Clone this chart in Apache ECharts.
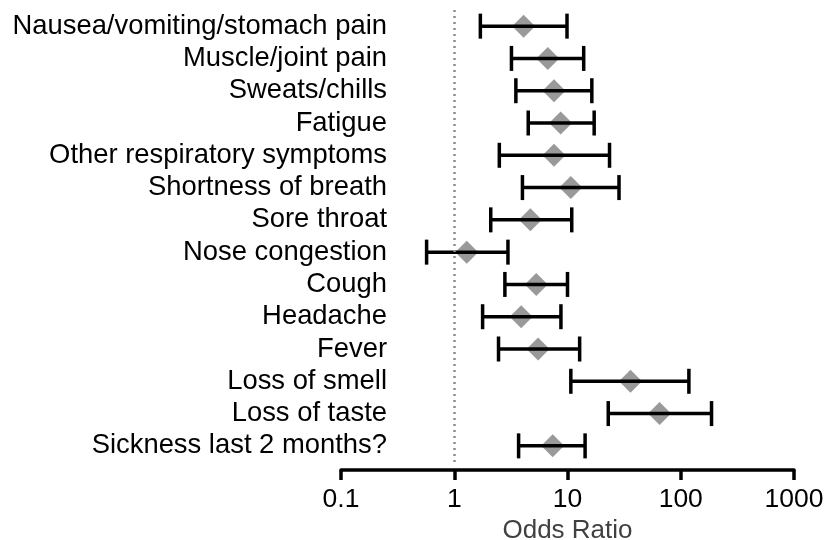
<!DOCTYPE html>
<html>
<head>
<meta charset="utf-8">
<script src="https://cdn.jsdelivr.net/npm/echarts@6/dist/echarts.min.js"></script>
<style>
	html, body { margin: 0; padding: 0; background: #fff; }
	#main { width: 827px; height: 540px; }
</style>
</head>
<body>
<div id="main"></div>
<script>
// 症状（从上到下）
var categories = ['Nausea/vomiting/stomach pain', 'Muscle/joint pain', 'Sweats/chills', 'Fatigue',
	'Other respiratory symptoms', 'Shortness of breath', 'Sore throat', 'Nose congestion', 'Cough',
	'Headache', 'Fever', 'Loss of smell', 'Loss of taste', 'Sickness last 2 months?'];
var oddsRatio = [4.1, 6.7, 7.6, 8.7, 7.6, 10.7, 4.7, 1.29, 5.3, 3.9, 5.5, 36, 65, 7.4];
var lowerCI = [1.7, 3.2, 3.5, 4.5, 2.5, 4.0, 2.1, 0.57, 2.8, 1.78, 2.46, 10.7, 22.9, 3.7];
var upperCI = [9.9, 13.9, 16.4, 17.2, 23.5, 28.5, 10.9, 2.98, 10.0, 8.75, 12.8, 118, 187, 14.3];
var xTicks = [0.1, 1, 10, 100, 1000];

var myChart = echarts.init(document.getElementById('main'));

var pointData = oddsRatio.map(function(v, i) { return [v, i]; });
var barData = lowerCI.map(function(v, i) { return [i, v, upperCI[i]]; });

var option = {
	animation: false,
	textStyle: { fontFamily: 'Liberation Sans, Arial, sans-serif' },
	grid: { left: 341, right: 33, top: 10, bottom: 78, outerBoundsMode: 'none', containLabel: false },
	xAxis: {
		type: 'log',
		logBase: 10,
		min: xTicks[0],
		max: xTicks[xTicks.length - 1],
		offset: 8,
		name: 'Odds Ratio',
		nameLocation: 'middle',
		nameGap: 39,
		nameTextStyle: { fontSize: 26, color: '#404040' },
		axisLine: { show: true, lineStyle: { color: '#000', width: 3.5 } },
		axisTick: { show: true, length: 10, lineStyle: { color: '#000', width: 3.5 } },
		minorTick: { show: false },
		splitLine: { show: false },
		axisLabel: {
			fontSize: 26.5,
			color: '#000',
			margin: 16,
			formatter: function(v) { return String(+v.toPrecision(3)); }
		}
	},
	yAxis: {
		type: 'category',
		inverse: true,
		data: categories,
		axisLine: { show: false },
		axisTick: { show: false },
		splitLine: { show: false },
		axisLabel: { interval: 0, fontSize: 27.4, color: '#000', margin: -46 }
	},
	series: [{
		type: 'scatter',
		symbol: 'diamond',
		symbolSize: 23,
		itemStyle: { color: '#808080' },
		data: pointData,
		z: 2,
		markLine: {
			silent: true,
			symbol: 'none',
			label: { show: false },
			lineStyle: { color: '#8c8c8c', type: [2, 4], width: 2.5 },
			data: [{ xAxis: 1 }]
		}
	}, {
		// 置信区间
		type: 'custom',
		z: 3,
		renderItem: function(params, api) {
			var row = api.value(0);
			var a = api.coord([api.value(1), row]);
			var b = api.coord([api.value(2), row]);
			var h = 12.5;
			var style = { stroke: '#000', lineWidth: 3.5 };
			return {
				type: 'group',
				children: [
					{ type: 'line', shape: { x1: a[0], y1: a[1], x2: b[0], y2: b[1] }, style: style },
					{ type: 'line', shape: { x1: a[0], y1: a[1] - h, x2: a[0], y2: a[1] + h }, style: style },
					{ type: 'line', shape: { x1: b[0], y1: b[1] - h, x2: b[0], y2: b[1] + h }, style: style }
				]
			};
		},
		encode: { x: [1, 2], y: 0 },
		data: barData
	}]
};

myChart.setOption(option);
</script>
</body>
</html>
